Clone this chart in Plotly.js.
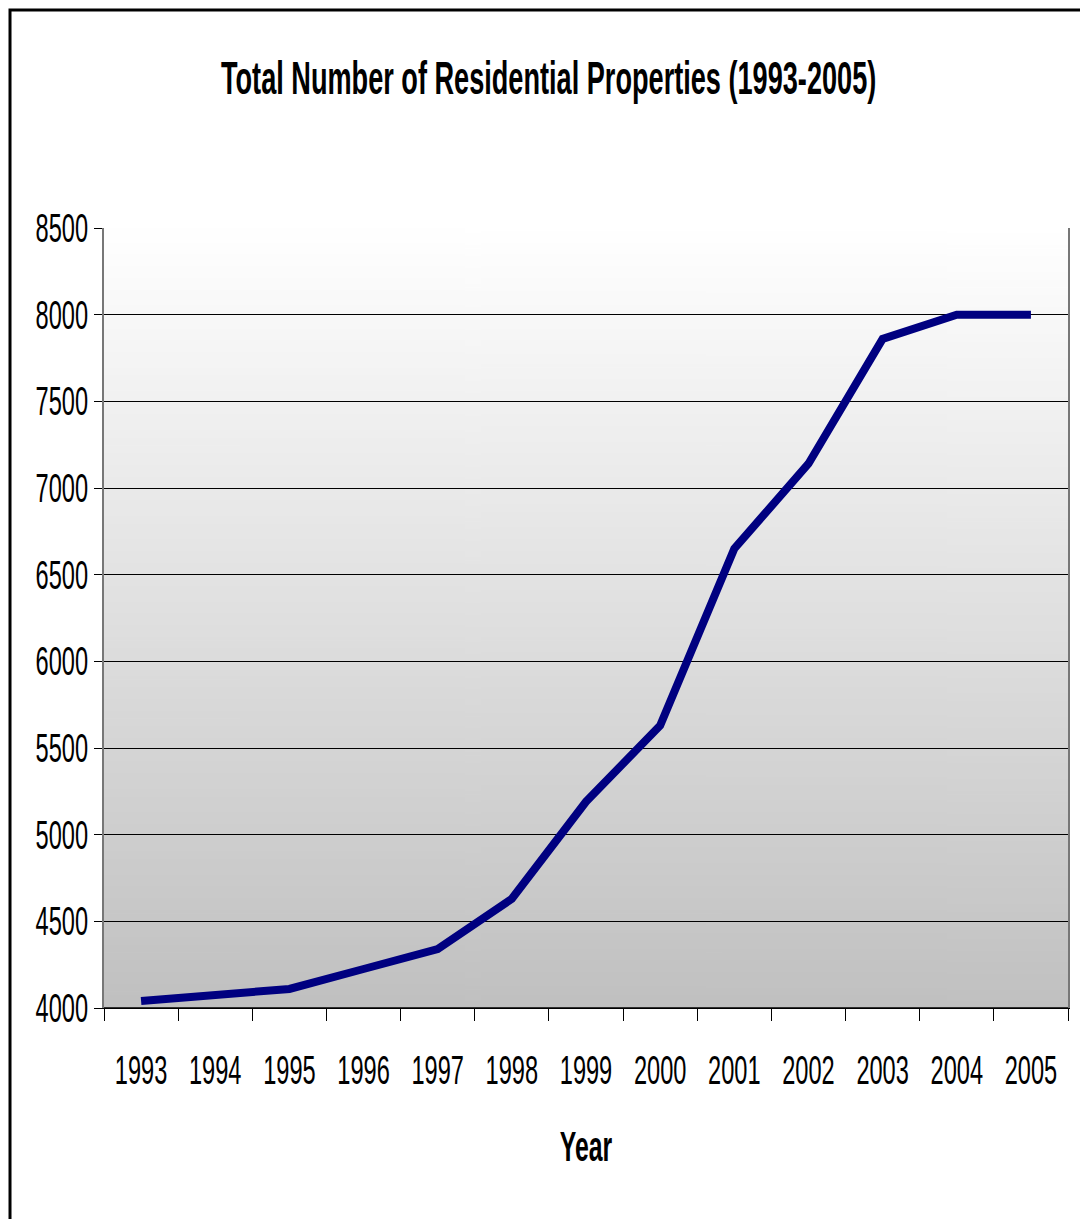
<!DOCTYPE html>
<html>
<head>
<meta charset="utf-8">
<script src="https://cdn.plot.ly/plotly-3.0.1.min.js"></script>
<style>html,body{margin:0;padding:0;background:#fff;}#chart{width:1080px;height:1219px;}</style>
</head>
<body>
<div id="chart"></div>
<script>
const years = ["1993","1994","1995","1996","1997","1998","1999","2000","2001","2002","2003","2004","2005"];
const properties = [4040,4075,4110,4225,4340,4630,5190,5630,6650,7140,7860,8000,8000];
const yTicks = [4000,4500,5000,5500,6000,6500,7000,7500,8000,8500];

function gradientURL(){
  const c = document.createElement('canvas');
  c.width = 4; c.height = 400;
  const g = c.getContext('2d');
  const gr = g.createLinearGradient(0,0,0,400);
  gr.addColorStop(0,'#ffffff');
  gr.addColorStop(1,'#c0c0c0');
  g.fillStyle = gr; g.fillRect(0,0,4,400);
  return c.toDataURL('image/png');
}

const font = "'Liberation Sans', Arial, sans-serif";
const SQUEEZE = 0.59;

const trace = {
  x: years, y: properties, type: 'scatter', mode: 'lines',
  line: {color: '#000080', width: 8}, hoverinfo: 'x+y'
};

const layout = {
  width: 1080, height: 1219,
  margin: {l: 104, r: 12, t: 228, b: 211},
  paper_bgcolor: '#ffffff',
  plot_bgcolor: 'rgba(0,0,0,0)',
  showlegend: false,
  title: {text: '<b>Total Number of Residential Properties (1993-2005)</b>',
          font: {family: font, size: 46, color: '#000'}, x: 0.508, xanchor: 'center', y: 0.936, yanchor: 'middle'},
  xaxis: {
    type: 'category', tickson: 'boundaries', ticks: 'outside', ticklen: 12, tickcolor: '#000', tickwidth: 1,
    showline: true, linecolor: '#000', linewidth: 1, showgrid: false, zeroline: false,
    tickangle: 0, ticklabelstandoff: 27,
    tickfont: {family: font, size: 40, color: '#000'},
    title: {text: '<b>Year</b>', font: {family: font, size: 42, color: '#000'}, standoff: 40},
    automargin: false, range: [-0.5, 12.5]
  },
  yaxis: {
    range: [4000, 8500], tickvals: yTicks, ticktext: yTicks.map(String),
    ticks: 'outside', ticklen: 8, tickcolor: '#000', tickwidth: 1, ticklabelstandoff: -2,
    showline: true, linecolor: '#777', linewidth: 2, mirror: true,
    showgrid: true, gridcolor: '#000', gridwidth: 1, zeroline: false,
    tickfont: {family: font, size: 40, color: '#000'}, automargin: false
  },
  images: [{source: gradientURL(), xref: 'paper', yref: 'paper', x: 0, y: 1, sizex: 1, sizey: 1,
            xanchor: 'left', yanchor: 'top', sizing: 'stretch', layer: 'below'}],
  shapes: [
    {type: 'rect', xref: 'paper', yref: 'paper', x0: -0.0975, x1: 1.2, y0: -0.4, y1: 1.2795,
     line: {color: '#000', width: 3}, fillcolor: 'rgba(0,0,0,0)', layer: 'above'},
    {type: 'line', xref: 'paper', yref: 'paper', x0: 0, x1: 1, y0: 0, y1: 0, line: {color: '#000', width: 1.5}}
  ]
};

function squeeze(gd, s){
  gd.querySelectorAll('svg text').forEach(t => {
    const x = parseFloat(t.getAttribute('x')) || 0;
    const tr = t.getAttribute('transform') || '';
    t.setAttribute('transform', tr + ' translate(' + x + ',0) scale(' + s + ',1) translate(' + (-x) + ',0)');
  });
}

const gd = document.getElementById('chart');
Plotly.newPlot(gd, [trace], layout, {displayModeBar: false, staticPlot: true}).then(() => squeeze(gd, SQUEEZE));
</script>
</body>
</html>
